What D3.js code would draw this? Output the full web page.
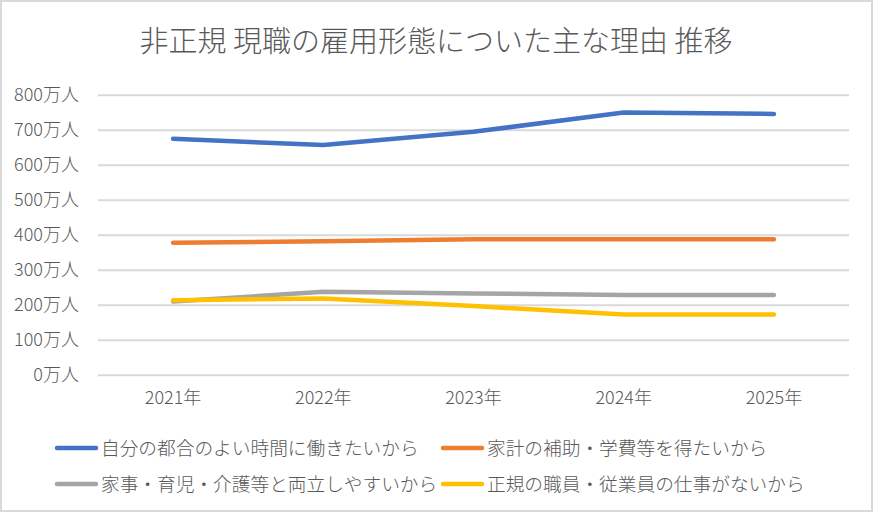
<!DOCTYPE html>
<html><head><meta charset="utf-8">
<script src="https://cdn.jsdelivr.net/npm/d3@7"></script>
<style>
html,body{margin:0;padding:0;background:#fff;}
svg text{font-family:"Noto Sans CJK JP","Noto Sans",sans-serif;font-weight:300;}
</style></head>
<body><svg id="c" width="873" height="512"></svg>
<script>
const years = ["2021年","2022年","2023年","2024年","2025年"];
const seriesNames = ["自分の都合のよい時間に働きたいから","家計の補助・学費等を得たいから","家事・育児・介護等と両立しやすいから","正規の職員・従業員の仕事がないから"];
const s1 = [674, 656, 694, 749, 745];
const s2 = [377, 381, 387, 387, 387];
const s3 = [209, 237, 232, 228, 228];
const s4 = [213, 218, 196, 172, 172];
const colors = ["#4472C4","#ED7D31","#A5A5A5","#FFC000"];
const yTicks = [0,100,200,300,400,500,600,700,800];
const title = "非正規 現職の雇用形態についた主な理由 推移";

const allSeries = [s1,s2,s3,s4];
const svg = d3.select("#c");
svg.append("rect").attr("x",1).attr("y",1).attr("width",871).attr("height",510)
  .attr("fill","#fff").attr("stroke","#D9D9D9").attr("stroke-width",2);

const x = d3.scaleBand().domain(years).range([98,849]);
const y = d3.scaleLinear().domain([0,800]).range([374.7,94.7]);

svg.append("text").attr("x",436).attr("y",52).attr("text-anchor","middle")
  .attr("font-size",29).attr("fill","#595959").text(title);

const yAxis = svg.append("g").attr("transform","translate(98,0)")
  .call(d3.axisLeft(y).tickValues(yTicks).tickSize(-751).tickFormat(d=>d+"万人").tickPadding(20));
yAxis.select(".domain").remove();
yAxis.selectAll(".tick line").attr("stroke","#D9D9D9").attr("stroke-width",2);
yAxis.selectAll(".tick text").attr("font-size",18).attr("fill","#595959").attr("x",-19);

const xAxis = svg.append("g").attr("transform","translate(0,374.7)")
  .call(d3.axisBottom(x).tickSize(0).tickPadding(17));
xAxis.select(".domain").remove();
xAxis.selectAll(".tick text").attr("font-size",18).attr("fill","#595959");

const line = d3.line().x((d,i)=>x(years[i])+x.bandwidth()/2).y(d=>y(d));
allSeries.forEach((s,i)=>{
  svg.append("path").datum(s).attr("d",line).attr("fill","none")
    .attr("stroke",colors[i]).attr("stroke-width",4.5)
    .attr("stroke-linecap","round").attr("stroke-linejoin","round");
});

const legPos = [[55,448],[441,448],[55,484],[441,484]];
seriesNames.forEach((n,i)=>{
  const g = svg.append("g").attr("transform",`translate(${legPos[i][0]},${legPos[i][1]})`);
  g.append("line").attr("x1",2).attr("x2",41).attr("y1",0).attr("y2",0)
    .attr("stroke",colors[i]).attr("stroke-width",4.5).attr("stroke-linecap","round");
  g.append("text").attr("x",46).attr("y",0).attr("dy","0.35em")
    .attr("font-size",18.7).attr("fill","#595959").text(n);
});
</script></body></html>
